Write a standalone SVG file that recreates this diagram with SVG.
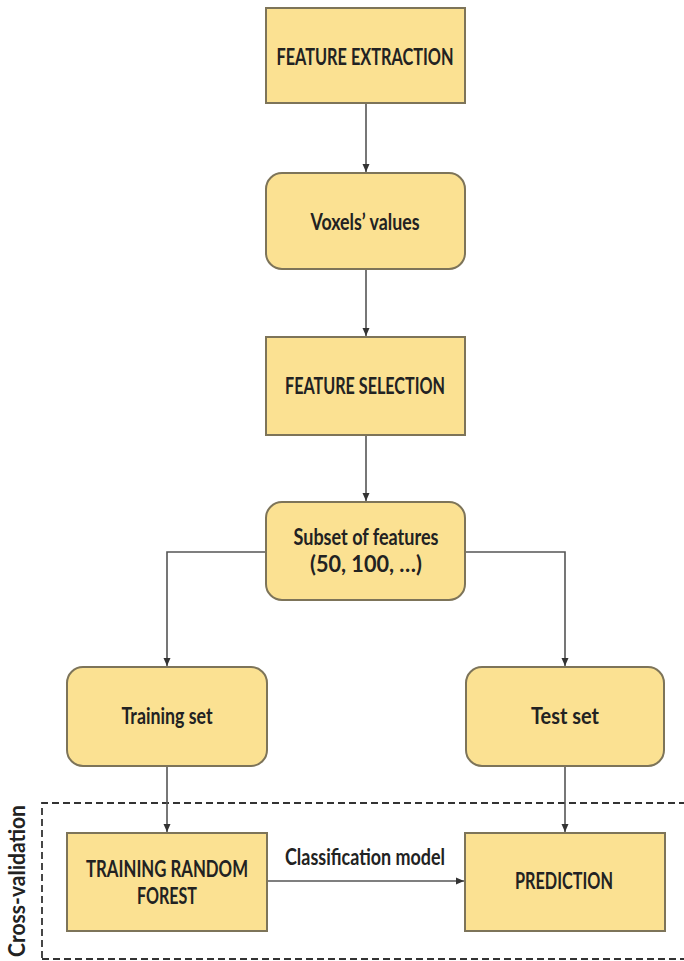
<svg xmlns="http://www.w3.org/2000/svg" width="684" height="961" viewBox="0 0 684 961">
<style>
.box{fill:#FBE192;stroke:#7d7459;stroke-width:2}
.t{font-family:"Lato","Liberation Sans",sans-serif;font-weight:bold;font-size:22px;fill:#222;text-anchor:middle}
.c{fill:none;stroke:#555;stroke-width:1.6}
.dash{fill:none;stroke:#333;stroke-width:1.8;stroke-dasharray:7 4}
</style>
<defs>
<marker id="ah" viewBox="0 0 8 8" refX="8" refY="4" markerWidth="8" markerHeight="8" markerUnits="userSpaceOnUse" orient="auto">
<path d="M0,0.5 L8,4 L0,7.5 Z" fill="#333"/>
</marker>
</defs>
<rect width="684" height="961" fill="#fff"/>
<g id="crossval">
<path class="dash" d="M42,958 L42,803 L690,803"/>
<path class="dash" d="M42,959 L690,959"/>
<text class="t" font-size="18" transform="translate(25,881) rotate(-90)" textLength="152" lengthAdjust="spacingAndGlyphs">Cross-validation</text>
</g>
<g id="connectors">
<path class="c" d="M366,103 L366,172" marker-end="url(#ah)"/>
<path class="c" d="M366,269 L366,336" marker-end="url(#ah)"/>
<path class="c" d="M366,435 L366,501" marker-end="url(#ah)"/>
<path class="c" d="M266,552 L167,552 L167,666" marker-end="url(#ah)"/>
<path class="c" d="M465,552 L565,552 L565,666" marker-end="url(#ah)"/>
<path class="c" d="M167,766 L167,832" marker-end="url(#ah)"/>
<path class="c" d="M565,766 L565,832" marker-end="url(#ah)"/>
<path class="c" d="M267,881 L464,881" marker-end="url(#ah)"/>
<text class="t" x="365" y="865" font-size="20" textLength="160" lengthAdjust="spacingAndGlyphs">Classification model</text>
</g>
<g id="feature-extraction">
<rect class="box" x="266" y="8" width="199" height="95"/>
<text class="t" x="365" y="65" textLength="177" lengthAdjust="spacingAndGlyphs">FEATURE EXTRACTION</text>
</g>
<g id="voxels-values">
<rect class="box" x="266" y="173" width="199" height="96" rx="16"/>
<text class="t" x="365" y="230" textLength="109" lengthAdjust="spacingAndGlyphs">Voxels’ values</text>
</g>
<g id="feature-selection">
<rect class="box" x="266" y="337" width="199" height="98"/>
<text class="t" x="365" y="394" textLength="160" lengthAdjust="spacingAndGlyphs">FEATURE SELECTION</text>
</g>
<g id="subset">
<rect class="box" x="266" y="502" width="199" height="98" rx="16"/>
<text class="t" x="366" y="545" textLength="145" lengthAdjust="spacingAndGlyphs">Subset of features</text>
<text class="t" x="366" y="572" textLength="112" lengthAdjust="spacingAndGlyphs">(50, 100, …)</text>
</g>
<g id="training-set">
<rect class="box" x="67" y="667" width="200" height="99" rx="16"/>
<text class="t" x="167" y="724" textLength="91" lengthAdjust="spacingAndGlyphs">Training set</text>
</g>
<g id="test-set">
<rect class="box" x="466" y="667" width="198" height="99" rx="16"/>
<text class="t" x="565" y="724" textLength="68" lengthAdjust="spacingAndGlyphs">Test set</text>
</g>
<g id="training-random-forest">
<rect class="box" x="67" y="833" width="200" height="98"/>
<text class="t" x="167" y="877" textLength="162" lengthAdjust="spacingAndGlyphs">TRAINING RANDOM</text>
<text class="t" x="167" y="904" textLength="60" lengthAdjust="spacingAndGlyphs">FOREST</text>
</g>
<g id="prediction">
<rect class="box" x="465" y="833" width="200" height="98"/>
<text class="t" x="564" y="889" textLength="98" lengthAdjust="spacingAndGlyphs">PREDICTION</text>
</g>
</svg>
